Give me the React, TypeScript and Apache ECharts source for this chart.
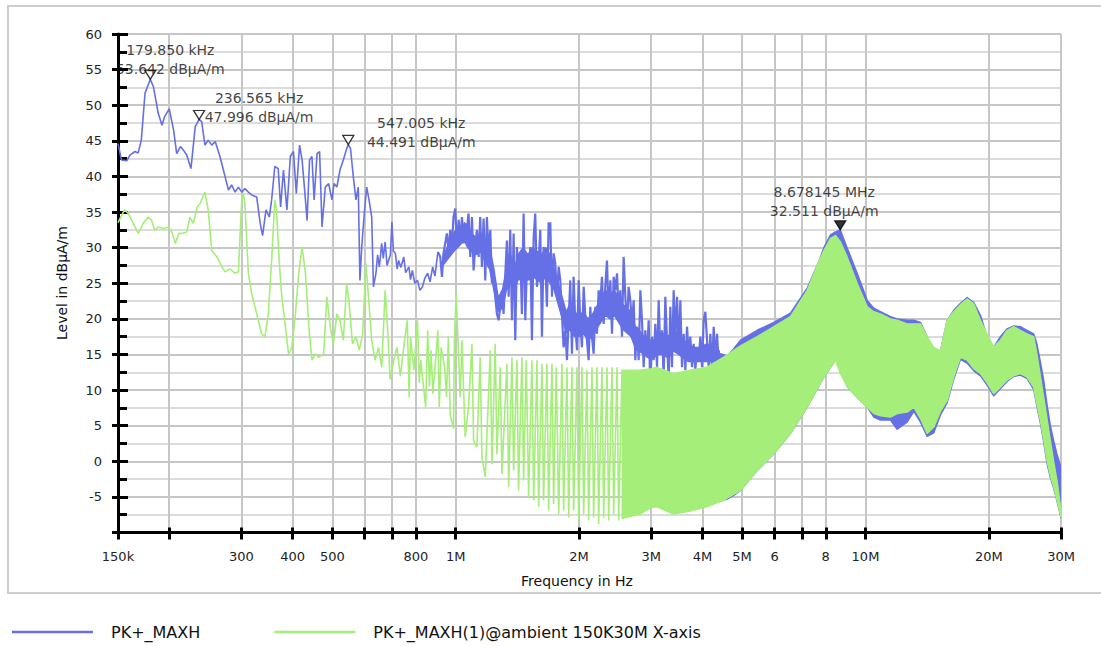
import React, { useEffect, useRef } from 'react';
import * as echarts from 'echarts';

// ---------- data ----------
const BLUE_NAME = 'PK+_MAXH';
const GREEN_NAME = 'PK+_MAXH(1)@ambient 150K30M X-axis';

// PK+_MAXH trace, frequency in kHz
const blueFreqKHz = [
  150, 153, 157.5, 160.5, 165, 168, 171, 174.6, 179.85, 183,
  188, 192, 195, 200, 205, 208.6, 213, 216.6, 220.7, 226,
  231.5, 236.565, 240, 244.5, 249, 254, 259, 266, 273.7, 279,
  284, 289.6, 295, 300.6, 306, 312, 318, 327, 333.5, 338,
  344.5, 351, 355.6, 362, 369, 374, 380, 387.5, 395, 402,
  408.5, 416, 422, 427.5, 434, 440, 446, 451.5, 459, 465.6,
  472, 480.7, 490, 499, 505, 513, 522, 532, 542, 547.005,
  554, 562.6, 571, 578.6, 584, 590, 597.5, 606.6, 614.6, 624,
  630, 639, 645, 651.5, 660, 666, 673, 680, 686, 693,
  699, 705, 712.6, 720, 726, 735, 747, 755, 769, 776,
  784, 795, 807, 818, 830, 842, 854.6, 866, 879, 890,
  905, 917, 926, 934, 952, 961, 970, 979, 988, 998,
  1007, 1017, 1026, 1036, 1046, 1055, 1065, 1075, 1086, 1096,
  1106, 1116, 1127, 1138, 1148, 1159, 1170, 1181, 1192, 1203,
  1215, 1226, 1238, 1249, 1261, 1273, 1285, 1297, 1309, 1322,
  1334, 1347, 1359, 1372, 1385, 1398, 1411, 1424, 1438, 1451,
  1465, 1479, 1493, 1507, 1521, 1535, 1550, 1564, 1579, 1594,
  1609, 1624, 1639, 1655, 1670, 1686, 1702, 1718, 1734, 1750,
  1767, 1784, 1800, 1817, 1834, 1852, 1869, 1887, 1904, 1922,
  1940, 1959, 1977, 1996, 2015, 2033, 2053, 2072, 2091, 2111,
  2131, 2151, 2171, 2192, 2212, 2233, 2254, 2275, 2297, 2318,
  2340, 2362, 2385, 2407, 2430, 2452, 2476, 2499, 2522, 2546,
  2570, 2594, 2619, 2643, 2668, 2693, 2719, 2744, 2770, 2796,
  2823, 2849, 2876, 2903, 2930, 2958, 2986, 3014, 3042, 3071,
  3100, 3129, 3158, 3188, 3218, 3248, 3279, 3310, 3341, 3372,
  3404, 3436, 3469, 3501, 3534, 3567, 3601, 3635, 3669, 3704,
  3738, 3774, 3809, 3845, 3881, 3918, 3955, 3992, 4029, 4067,
  4106, 4144, 4183, 4223, 4262, 4302, 4343, 4384, 4425,
];
const blueLevel = [
  44.6, 42.3, 42.2, 43.0, 43.5, 43.3, 45.1, 51.7, 53.64, 52.6,
  48.9, 47.2, 48.4, 49.5, 46.5, 43.2, 44.2, 43.7, 43.0, 41.1,
  47.0, 48.0, 47.7, 44.4, 45.1, 44.4, 44.9, 42.8, 40.0, 38.1,
  38.8, 37.8, 38.5, 37.8, 38.3, 37.8, 37.4, 37.1, 33.4, 31.7,
  35.3, 34.3, 36.7, 41.4, 41.1, 35.7, 40.9, 35.3, 42.8, 43.5,
  37.6, 44.4, 42.3, 38.5, 33.8, 42.3, 42.8, 36.7, 43.2, 43.5,
  32.9, 38.5, 39.0, 36.7, 39.0, 38.5, 40.9, 42.3, 43.9, 44.49,
  43.9, 40.0, 36.7, 38.5, 25.4, 30.1, 34.3, 38.5, 36.7, 34.3,
  24.5, 26.4, 29.0, 27.3, 30.6, 28.5, 30.8, 27.5, 28.2, 29.0,
  33.6, 29.5, 29.2, 27.0, 28.2, 27.2, 28.7, 26.5, 27.3, 25.5,
  26.8, 25.0, 25.4, 24.0, 24.5, 25.8, 26.4, 25.2, 27.3, 26.0,
  29.4, 28.7, 25.9, 29.2, 32.0, 29.6, 32.5, 30.1, 34.3, 35.5,
  30.1, 33.9, 31.0, 34.3, 30.6, 33.4, 32.5, 34.8, 28.7, 34.3,
  26.8, 30.1, 32.5, 28.7, 34.3, 27.3, 34.1, 25.4, 34.3, 29.2,
  32.5, 25.0, 25.9, 23.1, 20.7, 19.8, 21.7, 24.0, 20.7, 26.4,
  31.0, 23.1, 32.5, 19.8, 32.0, 17.0, 30.1, 25.4, 29.2, 20.7,
  34.8, 19.8, 27.8, 25.4, 30.1, 17.0, 31.5, 34.8, 24.5, 27.8,
  32.5, 17.5, 30.1, 27.8, 21.7, 33.4, 33.4, 23.1, 29.2, 27.8,
  23.1, 27.3, 25.4, 20.7, 16.0, 18.4, 14.2, 19.8, 25.4, 15.1,
  25.9, 19.3, 15.6, 25.4, 19.3, 16.0, 24.5, 20.3, 17.0, 14.2,
  21.7, 17.5, 15.1, 21.7, 17.9, 24.0, 22.1, 25.9, 19.3, 24.5,
  28.2, 20.7, 25.4, 17.9, 25.9, 24.0, 26.4, 20.7, 24.0, 17.5,
  28.7, 23.1, 18.9, 24.5, 22.6, 19.3, 22.6, 14.2, 18.9, 14.2,
  24.0, 19.8, 13.2, 18.4, 14.6, 19.8, 10.0, 17.5, 14.2, 19.3,
  13.2, 22.6, 15.1, 18.4, 11.8, 23.1, 17.0, 11.4, 21.7, 13.2,
  24.0, 17.5, 23.1, 15.1, 22.6, 13.2, 17.9, 12.8, 18.9, 15.1,
  17.5, 13.2, 16.5, 12.8, 16.0, 14.2, 17.5, 13.2, 19.8, 21.0,
  17.0, 13.2, 17.9, 12.8, 18.9, 14.2, 17.9, 13.7, 15.1,
];

// PK+_MAXH: solid core of the dense 0.93-4.4 MHz region (frequency in MHz)
const blueCoreFreqMHz = [
  0.93, 0.96, 0.99, 1.01, 1.03, 1.05, 1.07, 1.09, 1.12, 1.15,
  1.18, 1.21, 1.24, 1.27, 1.30, 1.33, 1.36, 1.39, 1.42, 1.46,
  1.50, 1.54, 1.58, 1.62, 1.66, 1.70, 1.74, 1.78, 1.82, 1.86,
  1.90, 1.95, 2.00, 2.05, 2.10, 2.15, 2.20, 2.26, 2.32, 2.38,
  2.44, 2.50, 2.56, 2.62, 2.68, 2.74, 2.80, 2.88, 2.96, 3.04,
  3.12, 3.20, 3.30, 3.40, 3.50, 3.60, 3.70, 3.80, 3.95, 4.10,
  4.25, 4.40,
];
const blueCoreHigh = [
  28.5, 30.5, 32.0, 33.0, 32.5, 33.5, 33.0, 32.0, 31.5, 32.0,
  31.0, 30.0, 27.0, 23.0, 24.0, 27.0, 29.0, 27.0, 29.0, 30.0,
  29.0, 30.0, 29.5, 29.0, 30.0, 29.0, 27.0, 25.0, 23.0, 21.0,
  22.0, 21.0, 20.5, 21.0, 20.0, 20.5, 21.5, 23.0, 24.0, 23.5,
  24.0, 23.0, 22.0, 21.5, 21.0, 19.0, 18.5, 17.5, 17.0, 17.0,
  17.5, 18.0, 17.5, 18.5, 18.0, 17.0, 16.5, 16.0, 16.0, 16.5,
  16.0, 15.5,
];
const blueCoreLow = [
  27.5, 28.5, 29.5, 30.0, 30.5, 31.0, 30.0, 29.5, 29.0, 29.5,
  28.0, 27.0, 24.0, 21.0, 21.5, 24.0, 25.0, 24.0, 25.5, 26.0,
  25.5, 26.0, 25.5, 25.0, 26.0, 25.0, 24.0, 22.0, 20.0, 18.0,
  18.5, 17.5, 17.5, 18.0, 17.0, 17.5, 18.5, 19.5, 20.5, 20.0,
  20.5, 19.5, 18.5, 18.0, 17.5, 16.0, 15.5, 15.0, 14.5, 14.5,
  15.0, 15.0, 14.5, 15.5, 15.0, 14.5, 14.0, 14.0, 14.0, 14.0,
  14.0, 14.0,
];

// PK+_MAXH dense band region (frequency in MHz): upper and lower envelope
const blueBandFreqMHz = [
  4.43, 4.6, 4.77, 4.955, 5.44, 5.976, 6.56, 7.207, 7.69, 7.915,
  8.214, 8.45, 8.678, 9.02, 9.546, 10.1, 10.48, 10.88, 11.51, 11.95,
  12.64, 13.12, 13.62, 14.14, 14.68, 15.24, 15.82, 16.42, 17.05, 17.7,
  18.38, 19.08, 19.8, 20.56, 21.34, 22.16, 23.0, 23.88, 24.79, 25.73,
  26.2, 26.71, 27.22, 27.73, 28.26, 28.79, 29.33, 30.0,
];
const blueBandHigh = [
  15.1, 14.8, 15.8, 17.0, 18.4, 19.5, 20.8, 24.3, 28.0, 30.0,
  31.8, 32.2, 32.5, 30.0, 26.4, 22.6, 21.5, 21.0, 20.3, 20.0,
  19.8, 19.8, 19.5, 17.5, 15.1, 15.5, 19.8, 21.2, 22.2, 23.0,
  22.3, 20.5, 17.5, 16.0, 17.5, 18.6, 19.0, 18.9, 18.4, 17.9,
  16.5, 14.0, 11.4, 8.0, 5.0, 2.9, 1.0, -0.8,
];
const blueBandLow = [
  -5.6, -5.3, -4.8, -4.1, -1.3, 1.05, 3.9, 7.6, 10.5, 11.8,
  13.2, 14.2, 13.0, 10.5, 9.0, 7.6, 6.2, 5.8, 5.8, 4.5,
  5.5, 7.0, 5.5, 3.5, 4.0, 6.5, 8.2, 11.5, 14.3, 13.8,
  12.7, 12.0, 10.7, 9.2, 10.2, 11.2, 11.9, 12.1, 11.6, 10.1,
  7.7, 5.4, 2.7, -0.3, -2.3, -3.8, -5.6, -7.9,
];

// ambient trace, frequency in kHz
const greenFreqKHz = [
  150, 155.5, 159, 163.4, 168, 172.8, 177.5, 181, 184.5, 188,
  193.6, 199, 203, 207, 211, 215, 220.7, 224.7, 229, 234,
  238, 244.5, 249, 254, 261.5, 269, 273.7, 281.5, 289.6, 295,
  300.6, 303.3, 306, 312, 318, 327, 336, 342.5, 349, 355.6,
  362, 365.5, 371, 376, 383.5, 391, 398.5, 406.5, 414, 422,
  430, 438.5, 446, 454.5, 463, 476.5, 485, 494.5, 503, 513,
  522, 532, 542, 549, 560, 571, 582, 593, 604, 612,
  624, 635.5, 648, 660, 673, 682, 692, 706, 719, 733,
  747, 762, 770, 776, 791, 807, 815, 822, 830, 845,
  854.6, 863, 871, 880, 888, 905, 912, 922, 940, 950,
  960, 970, 988, 993, 1003, 1010, 1026, 1036, 1055, 1075,
  1096, 1106, 1127, 1148, 1159, 1181, 1215, 1226, 1249, 1261,
  1285, 1297, 1334, 1347, 1372, 1385, 1411, 1424, 1451, 1465,
  1487, 1507, 1535, 1550, 1579, 1594, 1624, 1639, 1670, 1686,
  1718, 1734, 1760, 1784, 1817, 1834, 1869, 1887, 1922, 1940,
  1977, 1996, 2033, 2053, 2091, 2111, 2151, 2171, 2212, 2233,
  2275, 2297, 2340, 2362, 2407, 2430, 2476, 2499, 2546, 2570,
  2619,
];
const greenLevel = [
  33.5, 35.3, 34.8, 33.4, 32.0, 33.4, 34.3, 33.9, 32.4, 32.9,
  32.7, 32.9, 32.2, 30.6, 32.0, 32.0, 32.2, 34.3, 33.4, 35.7,
  36.2, 37.8, 35.3, 29.6, 28.7, 27.3, 26.6, 27.0, 26.4, 26.6,
  36.7, 37.6, 36.2, 26.4, 23.5, 20.7, 17.9, 17.5, 20.7, 28.2,
  36.7, 35.3, 28.2, 23.5, 19.3, 15.1, 16.0, 20.7, 26.4, 30.1,
  26.4, 18.8, 14.2, 15.1, 14.6, 15.1, 23.1, 18.8, 16.5, 20.7,
  19.8, 17.0, 24.9, 22.6, 16.5, 17.5, 15.6, 17.9, 27.8, 23.5,
  17.0, 14.2, 16.0, 13.2, 24.0, 18.8, 11.5, 14.2, 16.0, 12.0,
  16.0, 19.8, 9.0, 17.5, 12.8, 19.8, 11.0, 14.2, 11.8, 7.6,
  18.4, 10.5, 15.6, 9.5, 12.3, 18.4, 7.6, 16.0, 13.2, 9.0,
  17.5, 6.5, 4.6, 17.0, 23.6, 19.0, 9.0, 17.0, 3.4, 7.6,
  16.5, 2.9, 2.0, 14.6, 0.6, -2.2, 15.6, -0.4, 16.5, 1.0,
  13.2, -1.8, 13.7, -3.6, 14.6, -1.3, 14.2, -4.1, 14.6, -2.7,
  14.2, -5.0, 14.2, -5.5, 14.2, -6.4, 13.7, -5.5, 13.7, -6.9,
  13.7, -6.0, 13.2, -7.4, 13.7, -6.9, 13.2, -7.9, 13.2, -6.9,
  13.2, -8.3, 13.2, -7.4, 12.8, -8.3, 13.2, -7.9, 13.2, -8.8,
  13.2, -7.9, 13.2, -8.3, 13.2, -7.4, 13.2, -8.3, 12.8, -7.4,
  12.8,
];

// ambient dense band region (frequency in MHz): upper and lower envelope
const greenBandFreqMHz = [
  2.55, 2.82, 3.0, 3.1, 3.4, 3.74, 4.1, 4.5, 4.955, 5.44,
  5.976, 6.56, 7.207, 7.69, 7.915, 8.214, 8.45, 8.69, 9.02, 9.546,
  10.1, 10.48, 10.88, 11.51, 11.95, 12.64, 13.12, 13.62, 14.14, 14.68,
  15.24, 15.82, 16.42, 17.05, 17.7, 18.38, 19.08, 19.8, 20.56, 21.34,
  22.16, 23.0, 23.88, 24.79, 25.73, 26.2, 26.71, 27.22, 27.73, 28.26,
  28.79, 29.33, 30.0,
];
const greenBandHigh = [
  12.8, 12.8, 13.0, 13.2, 12.3, 12.8, 13.2, 14.6, 16.2, 17.5,
  18.9, 20.3, 24.0, 28.0, 29.6, 31.3, 31.7, 30.8, 28.7, 25.0,
  21.7, 21.0, 20.7, 20.0, 19.8, 19.3, 19.3, 19.3, 17.5, 16.0,
  15.5, 19.8, 21.0, 22.0, 22.8, 22.1, 19.8, 17.9, 16.0, 17.0,
  18.4, 18.9, 18.4, 17.9, 17.5, 15.1, 12.0, 9.0, 6.0, 2.9,
  0.0, -2.7, -6.9,
];
const greenBandLow = [
  -8.0, -7.4, -6.5, -6.4, -7.4, -7.0, -6.4, -5.5, -4.1, -1.3,
  1.05, 3.9, 7.6, 10.5, 11.8, 13.2, 14.2, 12.3, 10.5, 9.0,
  7.6, 6.7, 6.4, 6.2, 6.7, 6.9, 7.6, 6.0, 3.9, 4.8,
  7.0, 8.5, 11.8, 14.6, 14.2, 13.0, 12.3, 11.0, 9.5, 10.4,
  11.4, 12.0, 12.3, 11.8, 10.4, 8.0, 5.7, 3.0, 0.1, -2.0,
  -3.6, -5.5, -7.8,
];

// peak markers
const markerFreqHz = [179850, 236565, 547005, 8678145];
const markerLevel = [53.642, 47.996, 44.491, 32.511];
const markerFreqText = ['179.850 kHz', '236.565 kHz', '547.005 kHz', '8.678145 MHz'];
const markerFilled = [false, false, false, true];

// axes
const xTickFreqHz = [
  150e3, 200e3, 300e3, 400e3, 500e3, 600e3, 700e3, 800e3, 1e6,
  2e6, 3e6, 4e6, 5e6, 6e6, 7e6, 8e6, 10e6, 20e6, 30e6,
];
const xLabelFreqHz = [150e3, 300e3, 400e3, 500e3, 800e3, 1e6, 2e6, 3e6, 4e6, 5e6, 6e6, 8e6, 10e6, 20e6, 30e6];
const xLabelText = ['150k', '300', '400', '500', '800', '1M', '2M', '3M', '4M', '5M', '6', '8', '10M', '20M', '30M'];
const yMin = -10;
const yMax = 60;
const yStep = 5;

// ---------- styling ----------
const BLUE = '#6670e6';
const GREEN = '#a5ee79';
const FONT = "'DejaVu Sans', 'Liberation Sans', sans-serif";
const GRID_COLOR = '#c6c6c6';
const markerLabelOffset = [[20, -15], [60, -7.6], [73, -7.6], [-16, -23.4]];
const LEGEND_ICON = 'path://M0,0L80,0L80,2.4L0,2.4Z';
const DENSE_FROM_KHZ = 905; // the blue trace is drawn a little heavier above this frequency

const toX = (hz: number) => Math.log10(hz);
const X_MIN = toX(150e3);
const X_MAX = toX(30e6);

function pairs(freqs: number[], unit: number, levels: number[]) {
  return freqs.map((f, i) => [toX(f * unit), levels[i]]);
}

function bandSeries(name: string, freqsMHz: number[], hi: number[], lo: number[], color: string, z: number) {
  const data = freqsMHz.map((f, i) => [toX(f * 1e6), lo[i], hi[i]]);
  return {
    type: 'custom',
    name,
    silent: true,
    z,
    clip: true,
    animation: false,
    data,
    encode: { x: 0, y: [1, 2] },
    renderItem: (params: any, api: any) => {
      if (params.dataIndex !== 0) return null;
      const upper = data.map((d) => api.coord([d[0], d[2]]));
      const lower = data.map((d) => api.coord([d[0], d[1]])).reverse();
      return {
        type: 'polygon',
        shape: { points: upper.concat(lower) },
        style: { fill: color, stroke: color, lineWidth: 1.4, lineJoin: 'round' },
      };
    },
  };
}

function buildOption(): any {
  const xTickVals = xTickFreqHz.map(toX);
  const xLabelVals = xLabelFreqHz.map(toX);
  const labelFor = (v: number) => {
    let best = -1;
    let bestD = 1e9;
    xLabelVals.forEach((lv, i) => {
      const d = Math.abs(lv - v);
      if (d < bestD) { bestD = d; best = i; }
    });
    return bestD < 1e-6 ? xLabelText[best] : '';
  };

  const blueAll = pairs(blueFreqKHz, 1e3, blueLevel);
  const blueSparse = blueAll.filter((_, i) => blueFreqKHz[i] <= DENSE_FROM_KHZ);
  const blueDense = blueAll.filter((_, i) => blueFreqKHz[i] >= DENSE_FROM_KHZ);

  const markerData = markerFreqHz.map((f, i) => ({
    value: [toX(f), markerLevel[i]],
    symbol: 'path://M0,0L10,0L5,9Z',
    symbolSize: [11, 9],
    symbolOffset: [0, -4.5],
    itemStyle: {
      color: markerFilled[i] ? '#000' : '#fff',
      borderColor: '#000',
      borderWidth: 1.3,
    },
    label: {
      show: true,
      position: 'inside',
      offset: markerLabelOffset[i],
      formatter: `${markerFreqText[i]}\n${markerLevel[i].toFixed(3)} dBµA/m`,
      color: '#111',
      fontSize: 14,
      fontFamily: FONT,
      lineHeight: 19,
      align: 'center',
      verticalAlign: 'middle',
      textBorderWidth: 0,
    },
  }));

  const common = { silent: true, symbol: 'none', showSymbol: false, animation: false, emphasis: { disabled: true } };

  return {
    animation: false,
    backgroundColor: '#fff',
    textStyle: { fontFamily: FONT },
    grid: { left: 118, right: 40, top: 34, bottom: 113.5, outerBoundsMode: 'none', containLabel: false },
    legend: {
      data: [
        { name: BLUE_NAME, icon: LEGEND_ICON, itemStyle: { color: BLUE } },
        { name: GREEN_NAME, icon: LEGEND_ICON, itemStyle: { color: GREEN } },
      ],
      left: 7,
      top: 619,
      orient: 'horizontal',
      itemWidth: 81,
      itemHeight: 20,
      itemGap: 74,
      symbolKeepAspect: true,
      selectedMode: false,
      textStyle: { fontSize: 16, fontFamily: FONT, color: '#111', padding: [0, 0, 0, 13] },
    },
    xAxis: [
      {
        type: 'value',
        min: X_MIN,
        max: X_MAX,
        position: 'bottom',
        axisLine: { show: true, onZero: false, lineStyle: { color: '#000', width: 3 } },
        axisTick: { show: true, customValues: xTickVals, length: 7, lineStyle: { color: '#000', width: 3 } },
        axisLabel: {
          show: true,
          customValues: xLabelVals,
          formatter: (v: number) => labelFor(v),
          margin: 17,
          fontSize: 13,
          fontFamily: FONT,
          color: '#222',
        },
        splitLine: { show: true, lineStyle: { color: GRID_COLOR, width: 2 } },
      },
      {
        type: 'value',
        min: X_MIN,
        max: X_MAX,
        position: 'bottom',
        offset: 0,
        axisLine: { show: false, onZero: false },
        axisTick: { show: true, inside: true, customValues: xTickVals, length: 5, lineStyle: { color: '#000', width: 3 } },
        axisLabel: { show: false },
        splitLine: { show: false },
      },
    ],
    yAxis: [
      {
        type: 'value',
        min: yMin,
        max: yMax,
        interval: yStep,
        position: 'left',
        axisLine: { show: true, onZero: false, lineStyle: { color: '#000', width: 3 } },
        axisTick: { show: true, inside: true, length: 10, lineStyle: { color: '#000', width: 3 } },
        minorTick: { show: true, splitNumber: 2, length: 9, lineStyle: { color: '#000', width: 3 } },
        axisLabel: {
          formatter: (v: number) => (v === yMin ? '' : String(v)),
          margin: 16,
          fontSize: 13,
          fontFamily: FONT,
          color: '#222',
        },
        splitLine: { show: true, lineStyle: { color: GRID_COLOR, width: 2 } },
        minorSplitLine: { show: true, lineStyle: { color: '#d0d0d0', width: 1.5 } },
      },
      {
        type: 'value',
        min: yMin,
        max: yMax,
        interval: yStep,
        position: 'left',
        offset: 0,
        axisLine: { show: false, onZero: false },
        axisTick: { show: true, inside: false, length: 6, lineStyle: { color: '#000', width: 3 } },
        axisLabel: { show: false },
        splitLine: { show: false },
      },
    ],
    graphic: [
      {
        type: 'rect',
        silent: true,
        shape: { x: 8, y: 6, width: 1100, height: 587 },
        style: { fill: 'none', stroke: '#cdcdcd', lineWidth: 2 },
      },
      {
        type: 'text',
        silent: true,
        x: 62,
        y: 283,
        rotation: Math.PI / 2,
        style: {
          text: 'Level in dBµA/m',
          fill: '#111',
          fontSize: 14,
          fontFamily: FONT,
          align: 'center',
          verticalAlign: 'middle',
          textAlign: 'center',
          textVerticalAlign: 'middle',
        },
      },
      {
        type: 'text',
        silent: true,
        x: 577,
        y: 581,
        style: {
          text: 'Frequency in Hz',
          fill: '#111',
          fontSize: 14,
          fontFamily: FONT,
          align: 'center',
          verticalAlign: 'middle',
          textAlign: 'center',
          textVerticalAlign: 'middle',
        },
      },
    ],
    series: [
      {
        ...common,
        type: 'line',
        name: BLUE_NAME,
        data: blueSparse,
        lineStyle: { color: BLUE, width: 1.6 },
        itemStyle: { color: BLUE },
        z: 2,
      },
      {
        ...common,
        type: 'line',
        name: BLUE_NAME,
        data: blueDense,
        lineStyle: { color: BLUE, width: 2.2, join: 'miter' },
        itemStyle: { color: BLUE },
        z: 2,
      },
      bandSeries(BLUE_NAME, blueCoreFreqMHz, blueCoreHigh, blueCoreLow, BLUE, 2),
      bandSeries(BLUE_NAME, blueBandFreqMHz, blueBandHigh, blueBandLow, BLUE, 2),
      {
        ...common,
        type: 'line',
        name: GREEN_NAME,
        data: pairs(greenFreqKHz, 1e3, greenLevel),
        lineStyle: { color: GREEN, width: 1.6 },
        itemStyle: { color: GREEN },
        z: 3,
      },
      bandSeries(GREEN_NAME, greenBandFreqMHz, greenBandHigh, greenBandLow, GREEN, 3),
      {
        type: 'scatter',
        name: 'markers',
        silent: true,
        animation: false,
        emphasis: { disabled: true },
        data: markerData,
        z: 10,
      },
    ],
  };
}

export default function App() {
  const ref = useRef<HTMLDivElement>(null);
  useEffect(() => {
    if (!ref.current) return;
    const chart = echarts.init(ref.current, undefined, { renderer: 'svg' });
    chart.setOption(buildOption());
    return () => chart.dispose();
  }, []);
  return (
    <div
      ref={ref}
      style={{ position: 'absolute', left: 0, top: 0, width: 1101, height: 646, background: '#fff' }}
    />
  );
}
